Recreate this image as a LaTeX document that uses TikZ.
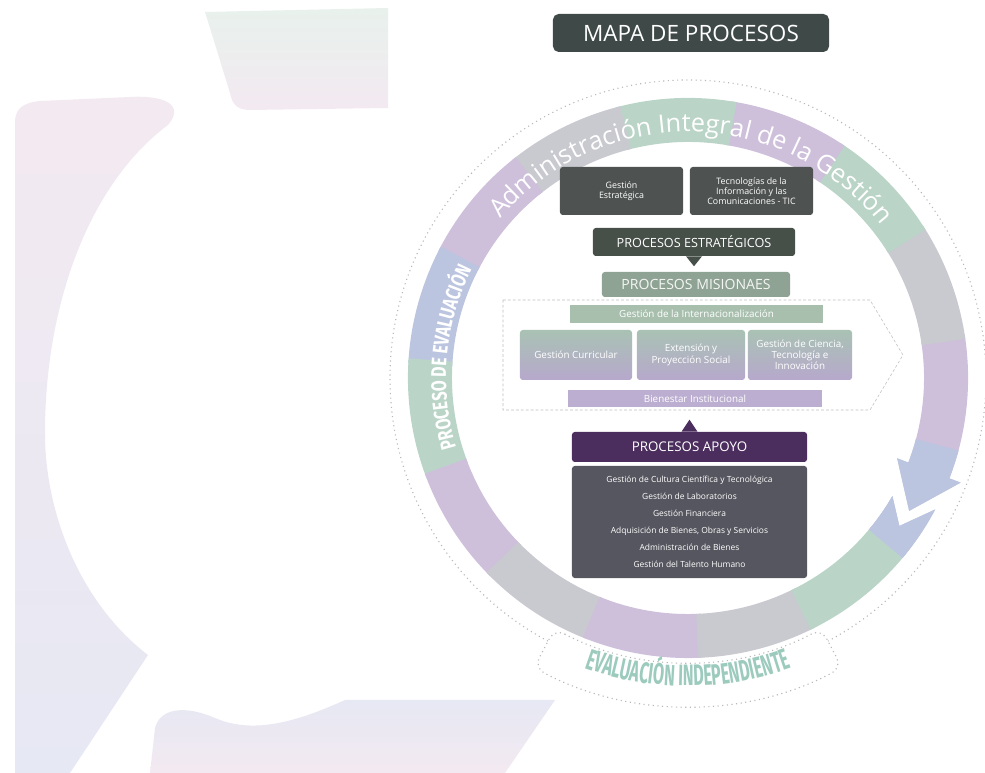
\documentclass[tikz,border=0pt]{standalone}
\usepackage{fontspec}
\setmainfont{Open Sans}
\newfontfamily\condfont[FakeStretch=0.75]{Fira Sans}
\newfontfamily\narrowfont[FakeStretch=0.55]{Fira Sans}
\usepackage{xcolor}
\usepackage{tikz}
\usetikzlibrary{decorations.text,positioning}

\definecolor{titlegray}{HTML}{3F4A48}
\definecolor{boxgray}{HTML}{4E5351}
\definecolor{estrgray}{HTML}{465049}
\definecolor{misgreen}{HTML}{8FA394}
\definecolor{intgreen}{HTML}{A8BFAE}
\definecolor{cellgreen}{HTML}{A9C2B4}
\definecolor{celllila}{HTML}{B7A8CC}
\definecolor{bienlila}{HTML}{BCAED0}
\definecolor{apoyopurple}{HTML}{4B2D5E}
\definecolor{listgray}{HTML}{55565F}
\definecolor{ringlila}{HTML}{CEBFDB}
\definecolor{ringgreen}{HTML}{BAD5C7}
\definecolor{ringgray}{HTML}{C9C9D0}
\definecolor{ringblue}{HTML}{BCC5E0}
\definecolor{evalgreen}{HTML}{9CCBBD}
\definecolor{bgpink}{HTML}{F3E9F1}
\definecolor{bggreen}{HTML}{E8F1EC}
\definecolor{bgblue}{HTML}{E6E8F3}

\begin{document}
\begin{tikzpicture}[x=0.025cm, y=0.025cm,
    box/.style={rounded corners=2pt, inner sep=0pt, align=center, text=white, font=\fontsize{6.3}{7.3}\selectfont},
    bar/.style={inner sep=0pt, text=white, font=\fontsize{7}{8}\selectfont},
    cell/.style={rounded corners=2pt, inner sep=0pt, align=center, text=white, minimum height=1.25cm,
      top color=cellgreen, bottom color=celllila, font=\fontsize{7}{8}\selectfont},
    dots/.style={draw=gray!55, line width=0.8pt, dash pattern=on 0.8pt off 2.5pt}]
  \useasboundingbox (0,0) rectangle (985,773);

  % pale background pieces
  \shade[top color=bgpink, middle color=bggreen, bottom color=bgblue]
    (15,0) -- (70,0) -- (148,118) .. controls (80,170) and (45,260) .. (45,340)
    .. controls (45,470) and (90,590) .. (168,648) .. controls (185,668) and (165,678) .. (130,676)
    -- (40,672) .. controls (20,670) and (15,662) .. (15,650) -- cycle;
  \shade[top color=bggreen, bottom color=bgpink]
    (205,761) -- (388,765) -- (388,665) -- (250,663) .. controls (236,663) and (232,670) .. (230,680) -- cycle;
  \shade[top color=bgblue, bottom color=bgpink]
    (150,0) -- (155,45) .. controls (160,65) and (185,68) .. (215,55)
    .. controls (250,40) and (290,48) .. (345,73) -- (555,73) -- (505,0) -- cycle;

  % title
  \node[rounded corners=4pt, fill=titlegray, text=white, inner sep=0pt, minimum width=6.9cm,
    minimum height=0.95cm, font=\fontsize{16}{16}\selectfont] (mapa) at (691,740) {MAPA DE PROCESOS};

  % ring
  \begin{scope}[shift={(688,395)}]
    \draw[dots] (0,0) circle[radius=298];
    \begin{scope}
      \clip (-21:280) arc[start angle=-21, end angle=332, radius=280] -- (325:258) -- (330:236)
        arc[start angle=330, end angle=-21, radius=236] -- cycle
        (-21:292) -- (-31:258) -- (-21:224) -- cycle;
      \foreach \a/\c in {-40/ringblue, -16/ringlila, 8/ringgray, 32/ringgreen, 56/ringlila, 80/ringgreen,
          104/ringgray, 128/ringlila, 152/ringblue, 176/ringgreen, 200/ringlila, 224/ringgray,
          248/ringlila, 272/ringgray, 296/ringgreen, 320/ringblue}
        \fill[\c] (0,0) -- (\a:320) arc[start angle=\a, end angle=\a+25, radius=320] -- cycle;
    \end{scope}
    \path[decorate, decoration={text along path, text align=center, text color=white,
        text={|\fontsize{18}{18}\selectfont|Administración Integral de la Gestión}}]
      (152:246) arc[start angle=152, end angle=26, radius=246];
    \path[decorate, decoration={text along path, text align=center, text color=white,
        text={|\condfont\bfseries\fontsize{15}{15}\selectfont|PROCESO DE EVALUACIÓN}}]
      (205:242) arc[start angle=205, end angle=145, radius=242];
    \filldraw[dots, fill=white, rounded corners=8pt]
      (242:284) arc[start angle=242, end angle=298, radius=284] -- (298:328)
      arc[start angle=298, end angle=242, radius=328] -- cycle;
    \path[decorate, decoration={text along path, text align=center, text color=evalgreen,
        text={|\narrowfont\bfseries\fontsize{21}{21}\selectfont|EVALUACIÓN INDEPENDIENTE}}]
      (244:308) arc[start angle=244, end angle=296, radius=308];
  \end{scope}

  % strategic
  \node[box, fill=boxgray, minimum width=3.075cm, minimum height=1.2cm] (gest) at (621.5,582) {Gestión\\Estratégica};
  \node[box, fill=boxgray, minimum width=3.075cm, minimum height=1.2cm] (tic) at (751.5,582)
    {Tecnologías de la\\Información y las\\Comunicaciones - TIC};
  \node[box, fill=estrgray, minimum width=5.05cm, minimum height=0.7cm, font=\fontsize{9}{9}\selectfont]
    (estr) at (694,531) {PROCESOS ESTRATÉGICOS};
  \fill[estrgray] ([xshift=-0.2cm]estr.south) -- ([xshift=0.2cm]estr.south) -- ([yshift=-0.25cm]estr.south) -- cycle;

  % missionary
  \node[box, fill=misgreen, minimum width=4.7cm, minimum height=0.625cm, text=white!90!misgreen,
    font=\fontsize{10}{10}\selectfont] (mis) at (696,488.5) {PROCESOS MISIONAES};
  \draw[fill=white, draw=gray!50, line width=0.4pt, dash pattern=on 2pt off 1.5pt]
    (503,473) -- (870,473) -- (903,418) -- (870,363) -- (503,363) -- cycle;
  \node[bar, fill=intgreen, minimum width=6.325cm, minimum height=0.45cm] (inter) at (696.5,459)
    {Gestión de la Internacionalización};
  \node[cell, minimum width=2.8cm] (curr) at (576,418) {Gestión Curricular};
  \node[cell, minimum width=2.7cm] (ext) at (691,418) {Extensión y\\Proyección Social};
  \node[cell, minimum width=2.6cm] (cien) at (800,418) {Gestión de Ciencia,\\Tecnología e\\Innovación};
  \node[bar, fill=bienlila, minimum width=6.35cm, minimum height=0.425cm] (bien) at (695,374.5)
    {Bienestar Institucional};

  % support
  \node[box, fill=apoyopurple, minimum width=5.875cm, minimum height=0.75cm, font=\fontsize{9.5}{9.5}\selectfont]
    (apoyo) at (689.5,326) {PROCESOS APOYO};
  \fill[apoyopurple] ([xshift=-0.2cm]apoyo.north) -- ([xshift=0.2cm]apoyo.north) -- ([yshift=0.3cm]apoyo.north) -- cycle;
  \node[box, fill=listgray, minimum width=5.875cm, minimum height=2.8cm, font=\fontsize{6}{12}\selectfont]
    (lista) at (689.5,251) {Gestión de Cultura Científica y Tecnológica\\Gestión de Laboratorios\\Gestión Financiera\\
    Adquisición de Bienes, Obras y Servicios\\Administración de Bienes\\Gestión del Talento Humano};
\end{tikzpicture}
\end{document}
